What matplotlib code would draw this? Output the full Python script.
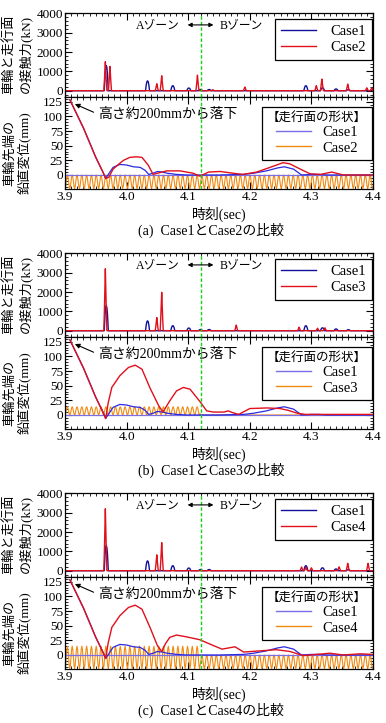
import numpy as np
import matplotlib
matplotlib.use('Agg')
import matplotlib.pyplot as plt
from matplotlib.lines import Line2D
from matplotlib.ticker import MultipleLocator

plt.rcParams['font.family'] = ['Liberation Serif', 'Noto Sans CJK JP']
plt.rcParams['axes.unicode_minus'] = False

# ---------------- data ----------------
# contact force peaks: time (sec) and peak value (kN)
case1_force_t = [3.967, 4.034, 4.075, 4.101, 4.120, 4.134, 4.291, 4.318, 4.340, 4.360]
case1_force_v = [1300, 510, 260, 140, 60, 60, 260, 150, 90, 50]

case2_force_t = [3.9655, 3.973, 4.049, 4.057, 4.115, 4.140, 4.192, 4.308, 4.317, 4.359, 4.390, 4.398]
case2_force_v = [1500, 1250, 360, 770, 800, 50, 190, 260, 600, 340, 150, 150]

case3_force_t = [3.9655, 4.049, 4.057, 4.178, 4.280, 4.310, 4.322]
case3_force_v = [3200, 680, 1985, 290, 180, 130, 150]

case4_force_t = [3.9655, 4.049, 4.057, 4.284, 4.291, 4.300, 4.345, 4.359, 4.392]
case4_force_v = [3200, 820, 1450, 190, 180, 150, 200, 380, 380]

# vertical displacement of the wheel tip (mm)
case1_disp_t = [3.908, 3.93, 3.95, 3.962, 3.966, 3.971, 3.978, 3.989, 4.000, 4.011, 4.022,
                4.030, 4.036, 4.043, 4.050, 4.058, 4.066, 4.081, 4.097, 4.15, 4.19, 4.206,
                4.227, 4.245, 4.256, 4.271, 4.284, 4.300, 4.312, 4.325, 4.4]
case1_disp_v = [128, 80, 30, 4, -6, 2, 13, 18, 17, 14, 13,
                8, 1, 3, 6, 5, 3, 1, 0, 0, 1, 3,
                7, 12, 14, 10, 0, 1, 1, 0, 0]

case2_disp_t = [3.908, 3.93, 3.95, 3.962, 3.966, 3.971, 3.978, 3.989, 3.995, 4.005, 4.016,
                4.025, 4.035, 4.043, 4.054, 4.065, 4.087, 4.108, 4.119, 4.133, 4.152,
                4.173, 4.189, 4.211, 4.233, 4.254, 4.265, 4.282, 4.298, 4.315, 4.333,
                4.352, 4.4]
case2_disp_v = [128, 80, 30, 4, -6, -4, 10, 20, 25, 30, 31,
                30, 17, 1, 4, 7, 7, 3, -2, 5, 6,
                3, 1, 5, 13, 21, 19, 10, 2, 1, 5,
                0, 0]

case3_disp_t = [3.908, 3.93, 3.95, 3.962, 3.966, 3.970, 3.976, 3.989, 4.003, 4.014, 4.025,
                4.038, 4.052, 4.059, 4.070, 4.081, 4.092, 4.103, 4.119, 4.130, 4.141,
                4.158, 4.165, 4.172, 4.182, 4.200, 4.228, 4.249, 4.262, 4.277, 4.290,
                4.4]
case3_disp_v = [128, 80, 30, 4, -6, 20, 47, 67, 81, 85, 78,
                46, 16, 5, 24, 41, 47, 44, 23, 7, 5,
                5, 7, 4, 1, 11, 12, 11, 8, 3, 1,
                1]

case4_disp_t = [3.908, 3.93, 3.95, 3.962, 3.966, 3.970, 3.976, 3.989, 4.003, 4.014, 4.025,
                4.038, 4.050, 4.057, 4.063, 4.070, 4.081, 4.097, 4.119, 4.141, 4.155,
                4.176, 4.190, 4.216, 4.243, 4.265, 4.287, 4.309, 4.330, 4.352, 4.379,
                4.4]
case4_disp_v = [128, 80, 30, 4, -6, 20, 47, 67, 81, 85, 78,
                47, 16, 6, 19, 30, 34, 31, 26, 16, 10,
                14, 5, 7, 9, 6, -1, 1, 3, 0, 2,
                1]

# running surface shape: one cycle of the undulation (0 = low, 1 = high)
surface_period = 0.0078
surface_cycle = [0.0, 0.15, 0.5, 0.85, 1.0, 0.85, 0.5, 0.15]
zone_boundary = 4.12
# (low, high) in mm for zone A and zone B
case2_surface = [(-23, 0), (-23, 0)]
case3_surface = [(0, 14), (0, 0)]
case4_surface = [(-23, 15), (-23, 0)]

panel_labels = ['(a)', '(b)', '(c)']
compare_names = ['Case2', 'Case3', 'Case4']
compare_force = [(case2_force_t, case2_force_v), (case3_force_t, case3_force_v),
                 (case4_force_t, case4_force_v)]
compare_disp = [(case2_disp_t, case2_disp_v), (case3_disp_t, case3_disp_v),
                (case4_disp_t, case4_disp_v)]
compare_surface = [case2_surface, case3_surface, case4_surface]

# ---------------- helpers ----------------
pulse_dx = [-1.0, -0.6, -0.3, 0.0, 0.3, 0.6, 1.0]
pulse_round = [0.0, 0.65, 0.92, 1.0, 0.92, 0.65, 0.0]
pulse_sharp = [0.0, 0.35, 0.68, 1.0, 0.68, 0.35, 0.0]


def pulse_line(times, heights, half, shape):
    xs, ys = [3.9], [0.0]
    for t, h in sorted(zip(times, heights)):
        for dx, s in zip(pulse_dx, shape):
            xs.append(t + dx * half)
            ys.append(h * s)
    xs.append(4.4)
    ys.append(0.0)
    return xs, ys


def surface_line(ranges):
    n = int(round(0.5 / surface_period * len(surface_cycle)))
    t = 3.9 + np.arange(n + 1) * surface_period / len(surface_cycle)
    frac = np.array([surface_cycle[i % len(surface_cycle)] for i in range(n + 1)])
    lo = np.where(t < zone_boundary, ranges[0][0], ranges[1][0])
    hi = np.where(t < zone_boundary, ranges[0][1], ranges[1][1])
    return t, lo + (hi - lo) * frac


W, H = 386, 723


def rect(x0, y0, x1, y1):
    return [x0 / W, 1 - y1 / H, (x1 - x0) / W, (y1 - y0) / H]


def style_axis(ax):
    ax.set_xlim(3.9, 4.4)
    ax.xaxis.set_major_locator(MultipleLocator(0.1))
    ax.xaxis.set_minor_locator(MultipleLocator(0.01))
    ax.tick_params(which='both', direction='in', top=True, right=True,
                   labelsize=9.5, pad=1.5)
    ax.tick_params(which='major', length=5, width=0.8)
    ax.tick_params(which='minor', length=2.5, width=0.6)
    for sp in ax.spines.values():
        sp.set_linewidth(0.9)


blue_force = '#10109a'
red = '#e0101c'
blue_disp = '#2a2ae0'
purple = '#7a6ee6'
orange = '#f08a10'
green = '#14d214'

fig = plt.figure(figsize=(3.86, 7.23), dpi=100)

for i in range(3):
    off = 240 * i
    name = compare_names[i]

    # ---- contact force ----
    ax_f = fig.add_axes(rect(65, 13.3 + off, 373, 96.7 + off))
    style_axis(ax_f)
    ax_f.set_ylim(-310, 4000)
    ax_f.set_yticks([0, 1000, 2000, 3000, 4000])
    ax_f.yaxis.set_minor_locator(MultipleLocator(200))
    ax_f.tick_params(labelbottom=False)

    bx, by = pulse_line(case1_force_t, case1_force_v, 0.0033, pulse_round)
    rx, ry = pulse_line(*compare_force[i], 0.0025, pulse_sharp)
    ax_f.plot(bx, by, color=blue_force, lw=1.0, label='Case1')
    ax_f.plot(rx, ry, color=red, lw=1.0, label=name)
    ax_f.axvline(zone_boundary, color=green, lw=1.0, ls=(0, (2.5, 1.5)))

    ax_f.text(4.05, 3400, 'Aゾーン', ha='center', va='center', fontsize=8.5)
    ax_f.text(4.186, 3400, 'Bゾーン', ha='center', va='center', fontsize=8.5)
    ax_f.annotate('', xy=(4.099, 3400), xytext=(4.141, 3400),
                  arrowprops=dict(arrowstyle='<|-|>', color='k', lw=0.8,
                                  mutation_scale=6, shrinkA=0, shrinkB=0))

    leg = ax_f.legend(loc='upper right', bbox_to_anchor=(0.997, 0.932),
                      borderaxespad=0, fancybox=False, edgecolor='k',
                      framealpha=1, fontsize=10.5, handlelength=2.4,
                      handletextpad=1.0, borderpad=0.4, labelspacing=0.2)
    leg.get_frame().set_linewidth(0.9)

    # ---- vertical displacement ----
    ax_d = fig.add_axes(rect(65, 96.7 + off, 373, 189.3 + off))
    style_axis(ax_d)
    ax_d.set_ylim(-24.4, 133.5)
    ax_d.set_yticks([0, 25, 50, 75, 100, 125])
    ax_d.yaxis.set_minor_locator(MultipleLocator(5))

    st, sv = surface_line(compare_surface[i])
    ax_d.plot(st, sv, color=orange, lw=0.8, zorder=2)
    ax_d.plot([3.9, 4.4], [0, 0], color=purple, lw=0.9, zorder=2)
    ax_d.plot(case1_disp_t, case1_disp_v, color=blue_disp, lw=0.9, zorder=3)
    ax_d.plot(*compare_disp[i], color=red, lw=1.0, zorder=4)
    ax_d.axvline(zone_boundary, color=green, lw=1.0, ls=(0, (2.5, 1.5)), zorder=5)

    ax_d.annotate('高さ約200mmから落下', xy=(3.916, 121), xytext=(3.953, 104),
                  ha='left', va='center', fontsize=10,
                  arrowprops=dict(arrowstyle='-|>', color='k', lw=0.8,
                                  mutation_scale=7, shrinkA=1, shrinkB=0,
                                  relpos=(0, 0.5)))

    handles = [Line2D([], [], color=purple, lw=1.0),
               Line2D([], [], color=orange, lw=1.0)]
    leg2 = ax_d.legend(handles, ['Case1', name], title='【走行面の形状】',
                       title_fontsize=9, loc='upper right',
                       bbox_to_anchor=(0.997, 0.892), borderaxespad=0,
                       fancybox=False, edgecolor='k', framealpha=1,
                       fontsize=10.5, handlelength=2.4, handletextpad=0.8,
                       borderpad=0.35, labelspacing=0.15)
    leg2.get_frame().set_linewidth(0.9)

    # ---- labels ----
    fig.text(17.5 / W, 1 - (54 + off) / H, '車輪と走行面\nの接触力(kN)',
             rotation=90, ha='center', va='center', multialignment='center',
             fontsize=9.5, linespacing=1.15)
    fig.text(17.5 / W, 1 - (153 + off) / H, '車輪先端の\n鉛直変位(mm)',
             rotation=90, ha='center', va='center', multialignment='center',
             fontsize=9.5, linespacing=1.15)
    fig.text(219 / W, 1 - (214 + off) / H, '時刻(sec)', ha='center',
             va='center', fontsize=10)
    fig.text(211 / W, 1 - (230 + off) / H,
             panel_labels[i] + '  Case1と' + name + 'の比較',
             ha='center', va='center', fontsize=10)

fig.savefig('out.png', dpi=100)
